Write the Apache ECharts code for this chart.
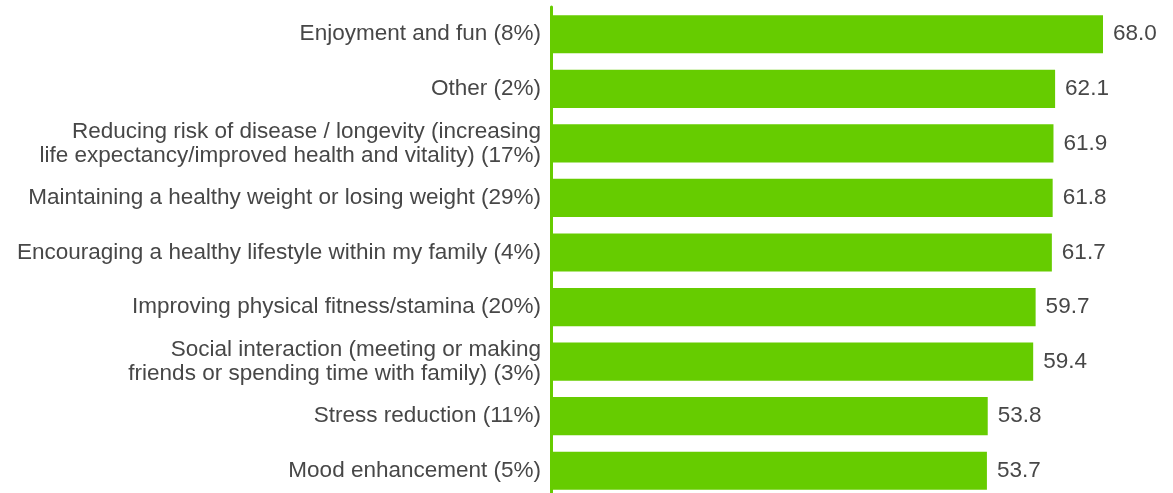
<!DOCTYPE html>
<html>
<head>
<meta charset="utf-8">
<style>
  html, body { margin: 0; padding: 0; background: #fff; }
  #chart { width: 1173px; height: 493px; }
</style>
<script src="https://cdn.jsdelivr.net/npm/echarts@6/dist/echarts.min.js"></script>
</head>
<body>
<div id="chart"></div>
<script>
// categories (top to bottom)
const categories = [
  'Enjoyment and fun (8%)',
  'Other (2%)',
  'Reducing risk of disease / longevity (increasing\nlife expectancy/improved health and vitality) (17%)',
  'Maintaining a healthy weight or losing weight (29%)',
  'Encouraging a healthy lifestyle within my family (4%)',
  'Improving physical fitness/stamina (20%)',
  'Social interaction (meeting or making\nfriends or spending time with family) (3%)',
  'Stress reduction (11%)',
  'Mood enhancement (5%)'
]
const values = [68.0, 62.1, 61.9, 61.8, 61.7, 59.7, 59.4, 53.8, 53.7]

const green = '#66cc00'
const textColor = '#474747'
const fontFamily = '"Liberation Sans", Arial, Helvetica, sans-serif'

const chart = echarts.init(document.getElementById('chart'))

chart.setOption({
  animation: false,
  grid: {
    left: 551,
    right: 70,
    top: 7,
    bottom: -5,
    outerBoundsMode: 'none',
    containLabel: false
  },
  xAxis: {
    type: 'value',
    min: 0,
    max: 68,
    show: false
  },
  yAxis: {
    type: 'category',
    inverse: true,
    data: categories,
    axisLine: {
      show: true,
      lineStyle: { color: green, width: 3 }
    },
    axisTick: { show: false },
    axisLabel: {
      color: textColor,
      fontSize: 22.5,
      lineHeight: 24,
      fontFamily: fontFamily,
      margin: 10,
      align: 'right',
      padding: [5, 0, 0, 0]
    },
    z: 5
  },
  series: [
    {
      type: 'bar',
      data: values,
      barCategoryGap: '30%',
      itemStyle: { color: green },
      label: {
        show: true,
        position: 'right',
        distance: 10,
        color: textColor,
        fontSize: 22.5,
        fontFamily: fontFamily,
        padding: [5, 0, 0, 0],
        formatter: p => p.value.toFixed(1)
      }
    }
  ]
})
</script>
</body>
</html>
